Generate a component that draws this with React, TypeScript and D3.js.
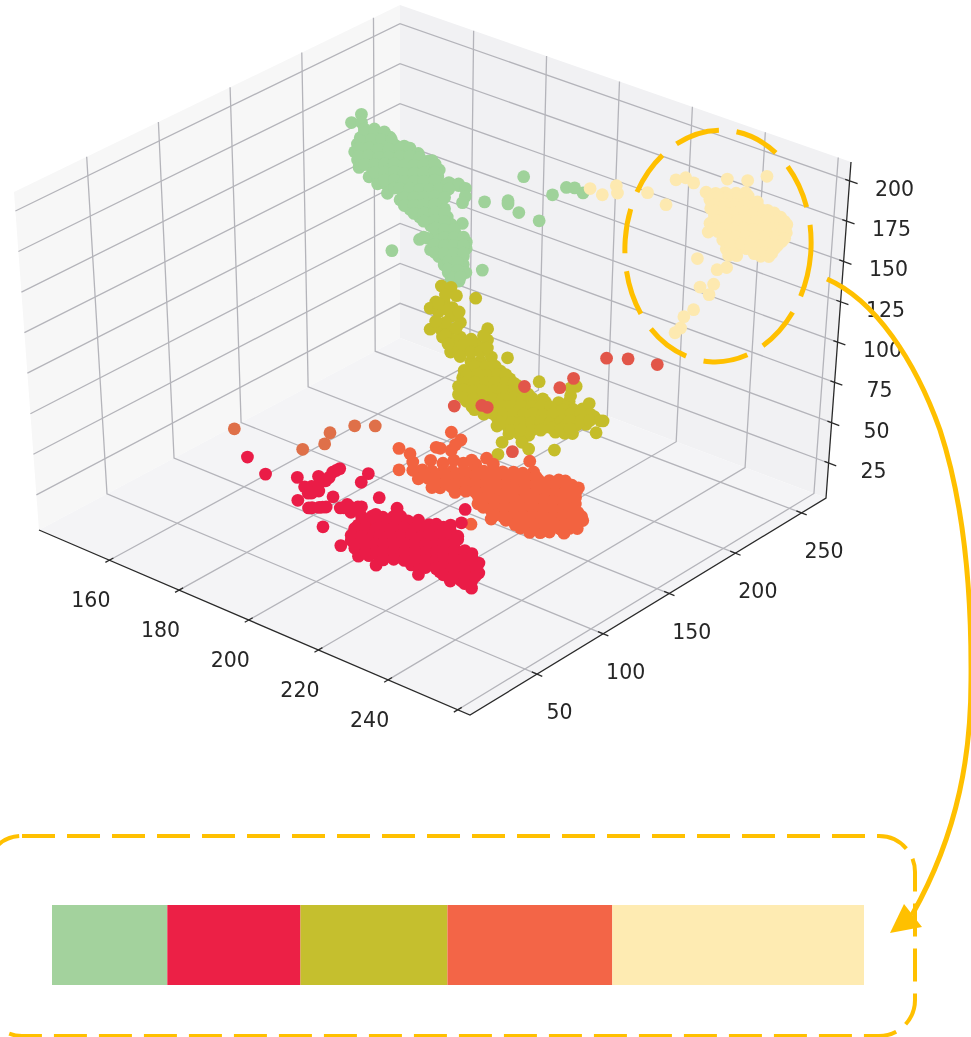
import * as d3 from 'd3';
import { useEffect, useRef } from 'react';

const width = 971;
const height = 1037;

// axis limits and ticks (pixel values: R, G, B)
const xLimits = [139.8, 263.5];
const yLimits = [-0.7, 268.5];
const zLimits = [3.3, 211.7];
const xTicks = [160, 180, 200, 220, 240, 260];
const xTickLabels = [160, 180, 200, 220, 240];
const yTicks = [50, 100, 150, 200, 250];
const zTicks = [25, 50, 75, 100, 125, 150, 175, 200];

// screen position of the cube corners [left, front, back, right]
const floorCorners = [[39, 530], [470, 715], [400, 338], [826, 498]];
const topCorners = [[14, 192], [474, 370], [400, 5], [851, 162]];

// green cluster, R about 165: [G, B]
const greenR = 165;
const greenGB = [
  [177,204],[170,202],[177,199],[179,194],[186,191],[176,190],[184,187],[191,184],[197,181],
  [174,187],[180,184],[187,180],[194,177],[201,174],[207,171],[172,183],[177,180],[184,177],
  [191,174],[199,170],[206,167],[213,164],[217,162],[174,177],[181,174],[188,171],[195,167],
  [202,164],[209,161],[216,158],[224,154],[227,153],[175,172],[184,168],[191,164],[198,161],
  [205,158],[212,155],[219,151],[226,148],[232,145],[182,163],[188,161],[195,157],[202,154],
  [209,151],[216,148],[224,144],[231,141],[188,156],[194,153],[201,150],[208,147],[215,143],
  [222,140],[229,137],[235,134],[241,132],[246,129],[239,134],[246,130],[251,125],[195,147],
  [207,142],[214,139],[221,135],[229,132],[234,130],[251,120],[204,139],[211,135],[218,132],
  [225,129],[232,126],[249,117],[211,130],[218,127],[225,124],[232,121],[236,119],[218,122],
  [225,119],[232,116],[238,113],[249,104],[226,113],[234,110],[241,107],[230,107],[237,103],
  [244,100],[218,108],[224,106],[231,101],[239,97],[246,94],[252,91],[226,98],[233,95],
  [241,92],[248,89],[252,87],[232,91],[237,88],[244,85],[250,83],[236,84],[243,81],[250,78],
  [239,78],[246,75],[252,72],[241,72],[247,69],[198,110],
  [179,192],[186,189],[193,186],[176,188],[184,185],[191,182],[198,179],[175,184],[182,181],
  [189,177],[196,174],[204,171],[211,168],[175,179],[182,176],[189,172],[196,169],[204,166],
  [211,163],[218,159],[179,172],[186,169],[193,166],[200,163],[207,159],[214,156],[221,153],
  [229,150],[186,164],[193,161],[200,158],[207,154],[214,151],[221,148],[229,145],[193,156],
  [200,153],[207,149],[214,146],[221,143],[229,140],[200,148],[204,146],[211,143],[218,139],
  [225,136],[232,133],[239,130],[207,139],[214,136],[221,133],[229,130],[236,126],[207,134],
  [214,131],[221,128],[229,125],[214,126],[221,123],[229,120],[236,116],[221,118],[229,115],
  [236,111],[229,110],[236,106],[243,103],[221,108],[236,101],[243,98],[250,95],[229,100],
  [236,96],[243,93],[250,90],[229,95],[236,91],[243,88],[250,85],[239,85],[246,81],[239,80],
  [246,76],[243,73],[248,71],
];
const greenLoose = [
  [180,254,143],[180,226,140],[180,243,131],[180,243,133],[180,251,122],[180,266,110],
  [190,249,142],[190,259,142],[190,265,139],[192,266,137],[180,225,98],
];

// cream cluster, R about 253: [G, B]
const creamR = 253;
const creamGB = [
  [236,210],[222,214],[207,222],[192,221],[199,217],[206,214],[214,210],[221,207],[195,215],
  [202,211],[209,207],[217,204],[224,200],[230,197],[196,209],[204,205],[211,202],[218,198],
  [225,195],[233,191],[238,188],[199,203],[207,199],[214,196],[221,192],[228,189],[235,185],
  [243,182],[248,179],[196,200],[204,196],[211,192],[218,189],[225,185],[233,182],[240,178],
  [247,175],[253,172],[195,195],[202,192],[209,188],[217,185],[224,181],[231,178],[238,174],
  [245,170],[253,167],[206,185],[214,181],[221,178],[228,174],[235,170],[243,167],[250,163],
  [209,178],[217,175],[224,171],[231,168],[238,164],[245,161],[211,173],[217,170],[235,161],
  [241,158],[210,166],[203,168],[201,160],[191,163],[198,155],[188,182],[187,151],[180,150],
  [178,144],[174,143],
  [201,214],[209,211],[216,207],[223,204],[199,210],[206,207],[214,203],[221,200],[228,196],
  [199,206],[206,202],[214,198],[221,195],[228,191],[235,188],[243,184],[201,199],[209,196],
  [216,192],[223,189],[230,185],[238,182],[245,178],[251,175],[199,195],[206,192],[214,188],
  [221,185],[228,181],[235,178],[243,174],[250,170],[209,186],[216,182],[223,179],[230,175],
  [238,172],[245,168],[252,164],[212,179],[220,176],[227,172],[234,168],[241,165],[247,162],
  [214,173],[230,165],[238,162],[243,159],
];
const creamLoose = [
  [215,210,184],[215,219,176],[215,229,177],[215,230,172],[215,252,162],[215,266,148],
  [240,205,212],[240,212,210],[240,218,204],
];

// olive cluster, R about 197: [G, B]
const oliveR = 197;
const oliveGB = [
  [151,136],[158,132],[162,125],[147,128],[143,126],[153,125],[159,119],[149,121],[158,114],
  [165,107],[143,113],[151,109],[158,106],[152,104],[159,99],[165,98],[158,92],[162,93],
  [169,90],[176,89],[185,94],[185,87],[182,84],[188,75],[200,69],[176,117],[154,112],
  [173,79],[180,76],[168,76],[176,73],[183,69],[190,66],[195,63],[167,72],[174,68],[182,65],
  [189,62],[196,58],[202,55],[164,68],[171,65],[179,61],[186,58],[193,54],[201,51],[208,48],
  [164,63],[171,60],[179,56],[186,53],[193,50],[201,46],[208,43],[216,39],[170,56],[177,52],
  [185,49],[192,45],[199,42],[207,38],[214,35],[221,31],[229,28],[239,23],[247,20],[176,48],
  [183,44],[190,41],[198,38],[205,34],[213,31],[220,27],[227,24],[235,20],[242,17],[193,35],
  [201,31],[208,28],[216,24],[223,21],[230,17],[238,14],[245,10],[193,30],[201,26],[208,23],
  [216,19],[223,16],[230,12],[238,9],[202,21],[210,17],[217,13],[212,11],[197,18],[194,12],
  [248,28],[252,27],[248,23],[224,43],
  [176,75],[184,71],[191,68],[170,72],[178,69],[185,65],[193,62],[199,59],[169,68],[176,65],
  [184,61],[191,58],[199,54],[205,51],[168,64],[175,60],[182,57],[190,53],[197,50],[205,46],
  [212,43],[168,59],[175,55],[182,52],[190,48],[197,45],[205,42],[212,38],[219,35],[227,31],
  [174,51],[182,48],[189,44],[196,41],[204,37],[211,34],[219,30],[226,27],[233,23],[183,42],
  [190,39],[198,35],[205,32],[213,28],[220,25],[227,21],[235,18],[242,14],[196,31],[204,27],
  [211,24],[219,20],[226,17],[233,13],[241,10],[204,22],[211,19],[219,15],[226,12],
  [154,129],[149,126],[156,119],[164,114],[162,105],[154,104],[147,116],[167,92],[173,85],
  [180,82],[165,86],[156,98],[185,82],[182,91],[173,93],
];
const oliveLoose = [
  [205,252,12],[205,247,7],[205,232,19],[205,239,16],[205,239,21],[205,245,18],[205,225,23],
  [205,232,24],[205,236,27],[205,229,30],[205,216,22],[205,223,18],[205,229,15],[205,196,21],
  [205,241,28],[215,189,32],[205,227,28],[205,235,25],[205,242,21],[205,227,24],[205,235,20],
  [205,242,17],[205,250,13],[205,213,26],[205,220,22],[205,227,19],
];

// orange cluster, R about 243: [G, B]
const orangeR = 243;
const orangeGB = [
  [45,130],[41,129],[38,127],[38,138],[0,146],[0,133],[27,134],[30,132],[8,139],[10,133],
  [23,128],[40,120],[53,114],[64,110],[69,104],[96,93],[32,122],[47,115],[56,110],[10,128],
  [17,125],[24,121],[32,117],[39,114],[47,110],[54,107],[62,103],[69,100],[76,96],[84,92],
  [91,88],[99,85],[14,121],[21,118],[29,114],[36,110],[44,107],[51,103],[58,100],[66,96],
  [73,92],[81,89],[88,85],[96,82],[103,78],[111,74],[118,71],[123,68],[24,111],[30,108],
  [38,105],[45,101],[53,97],[60,94],[68,90],[75,87],[82,83],[90,79],[97,76],[105,72],[112,69],
  [120,65],[127,62],[133,59],[58,90],[66,86],[73,82],[81,79],[88,75],[96,72],[103,68],[111,65],
  [118,61],[125,57],[131,54],[58,85],[66,81],[73,78],[81,74],[88,70],[96,67],[103,63],[111,60],
  [118,56],[125,53],[131,50],[68,76],[73,73],[81,69],[88,65],[96,62],[103,58],[111,55],[118,51],
  [125,48],[133,44],[68,71],[79,65],[86,62],[94,58],[101,54],[108,51],[116,47],[123,44],[131,40],
  [137,37],[90,55],[97,51],[105,48],[112,44],[120,40],[127,37],[133,34],[97,49],[105,45],[112,42],
  [123,36],[53,75],
  [19,121],[27,117],[34,114],[41,110],[49,107],[56,103],[64,99],[71,96],[79,92],[86,89],[93,85],
  [101,81],[27,112],[34,109],[41,105],[49,102],[56,98],[64,94],[71,91],[79,87],[86,84],[93,80],
  [101,76],[108,73],[116,69],[123,66],[128,63],[41,100],[49,97],[56,93],[64,89],[71,86],[79,82],
  [86,79],[93,75],[101,71],[108,68],[116,64],[123,61],[131,57],[62,86],[70,82],[77,78],[85,75],
  [92,71],[99,68],[107,64],[114,60],[122,57],[129,53],[62,81],[70,77],[77,73],[85,70],[92,66],
  [99,63],[107,59],[114,55],[122,52],[129,48],[70,72],[77,68],[85,65],[92,61],[99,58],[107,54],
  [114,50],[122,47],[129,43],[136,40],[86,59],[93,56],[101,52],[108,49],[116,45],[123,41],[131,38],
];
const orangeFar = [
  [180,44,82],[200,62,89],[200,58,84],[200,42,88],[200,80,85],[200,95,78],
];
const orangeHigh = [
  [243,151,130],[243,167,122],[243,189,108],[243,127,129],[243,117,128],[243,91,141],
  [243,40,153],[243,60,144],[243,64,141],[243,83,105],
];

// red cluster, G about 30: [R, B]
const redG = 30;
const redRB = [
  [189,79],[194,73],[203,79],[203,65],[210,55],[215,48],[226,87],[223,99],[221,92],[237,50],
  [215,95],[213,91],[211,84],[209,85],[207,77],[206,72],[205,75],[206,63],[209,66],[213,76],
  [211,68],[215,71],[217,75],[220,76],[221,77],[218,71],[225,76],[231,85],[209,76],[221,71],
  [224,74],[227,76],[230,79],[232,81],[220,65],[223,68],[226,70],[228,73],[231,75],[234,78],
  [237,80],[240,83],[242,85],[219,60],[222,62],[225,65],[228,67],[231,70],[233,72],[236,75],
  [239,78],[242,80],[245,83],[246,84],[218,54],[220,56],[223,59],[226,61],[229,64],[232,66],
  [235,69],[237,71],[240,74],[243,76],[246,79],[248,81],[219,50],[222,52],[225,55],[227,57],
  [230,60],[233,62],[236,65],[239,67],[241,70],[244,73],[247,75],[220,46],[223,49],[226,51],
  [229,54],[232,56],[235,59],[237,62],[240,64],[243,67],[246,69],[249,72],[252,74],[225,45],
  [235,54],[237,57],[240,59],[243,62],[246,64],[249,67],[252,69],[254,72],[243,57],[245,59],
  [248,61],[251,64],[254,66],[246,54],[249,57],[252,59],[252,55],[250,101],[249,92],[246,88],[252,76],
  [222,70],[225,73],[228,75],[231,78],[234,80],[237,83],[219,62],[222,65],[225,67],[227,70],
  [230,72],[233,75],[236,77],[239,80],[242,82],[244,85],[218,57],[221,59],[224,61],[226,64],
  [229,67],[232,69],[235,72],[238,74],[240,77],[243,79],[246,82],[248,83],[219,52],[222,55],
  [225,58],[227,60],[230,63],[233,65],[236,68],[239,70],[242,73],[244,75],[247,78],[222,50],
  [225,53],[227,55],[230,58],[233,60],[236,63],[239,65],[242,68],[244,70],[247,73],[250,76],
  [227,50],[230,53],[233,55],[236,58],[239,60],[242,63],[244,66],[247,68],[250,71],[252,73],
  [239,56],[242,58],[244,61],[247,63],[250,66],[253,68],[244,56],[247,58],[250,61],[253,63],
  [250,56],[214,93],[212,87],[209,80],[207,73],[207,64],[210,67],[216,72],[218,74],
];

// palette bar
const barNames = ['green', 'red', 'olive', 'orange', 'cream'];
const barShares = [14.2, 16.4, 18.1, 20.3, 31.0];
const barColors = ['#a3d29d', '#ec2046', '#c5bf2e', '#f36547', '#feebb2'];

const accent = '#ffc000';

const xScale = d3.scaleLinear().domain(xLimits).range([0, 1]);
const yScale = d3.scaleLinear().domain(yLimits).range([0, 1]);
const zScale = d3.scaleLinear().domain(zLimits).range([0, 1]);

// cube coordinates to pixels, blending between the eight corners
const blend = (c: number[][], u: number, v: number, i: number) =>
  c[0][i] * (1 - u) * (1 - v) + c[1][i] * u * (1 - v) + c[2][i] * (1 - u) * v + c[3][i] * u * v;

const project = (x: number, y: number, z: number): [number, number] => {
  const u = xScale(x);
  const v = yScale(y);
  const w = zScale(z);
  return [
    blend(floorCorners, u, v, 0) * (1 - w) + blend(topCorners, u, v, 0) * w,
    blend(floorCorners, u, v, 1) * (1 - w) + blend(topCorners, u, v, 1) * w,
  ];
};

export default function App() {
  const ref = useRef<HTMLDivElement>(null);

  useEffect(() => {
    if (!ref.current) return;
    const [x0, x1] = xLimits;
    const [y0, y1] = yLimits;
    const [z0, z1] = zLimits;

    const svg = d3
      .create('svg')
      .attr('width', width)
      .attr('height', height)
      .style('position', 'absolute')
      .style('left', 0)
      .style('top', 0)
      .style('font-family', '"DejaVu Sans"');

    svg
      .append('defs')
      .append('filter')
      .attr('id', 'soft')
      .append('feGaussianBlur')
      .attr('stdDeviation', 0.55);

    const chart = svg.append('g').attr('filter', 'url(#soft)');
    const line = d3.line();

    // panes
    const panes = [
      { fill: '#f7f7f7', pts: [[x0, y0, z0], [x0, y1, z0], [x0, y1, z1], [x0, y0, z1]] },
      { fill: '#f1f1f3', pts: [[x0, y1, z0], [x1, y1, z0], [x1, y1, z1], [x0, y1, z1]] },
      { fill: '#f4f4f6', pts: [[x0, y0, z0], [x1, y0, z0], [x1, y1, z0], [x0, y1, z0]] },
    ];
    chart
      .append('g')
      .selectAll('path')
      .data(panes)
      .join('path')
      .attr('fill', (d) => d.fill)
      .attr('d', (d) => line(d.pts.map((p) => project(p[0], p[1], p[2]))) + 'Z');

    // grid
    const gridPaths = [
      ...xTicks.map((t) => [[t, y0, z0], [t, y1, z0], [t, y1, z1]]),
      ...yTicks.map((t) => [[x1, t, z0], [x0, t, z0], [x0, t, z1]]),
      ...zTicks.map((t) => [[x0, y0, t], [x0, y1, t], [x1, y1, t]]),
    ];
    chart
      .append('g')
      .selectAll('path')
      .data(gridPaths)
      .join('path')
      .attr('fill', 'none')
      .attr('stroke', '#b4b4ba')
      .attr('stroke-width', 1.3)
      .attr('d', (d) => line(d.map((p) => project(p[0], p[1], p[2]))));

    // axis lines and ticks
    const axisPaths = [
      [[x0, y0, z0], [x1, y0, z0], [x1, y1, z0], [x1, y1, z1]],
      ...xTicks.map((t) => [[t, y0 - 3, z0], [t, y0 + 3, z0]]),
      ...yTicks.map((t) => [[x1 - 1.5, t, z0], [x1 + 1.5, t, z0]]),
      ...zTicks.map((t) => [[x1 - 1.2, y1, t], [x1 + 2.2, y1, t]]),
    ];
    chart
      .append('g')
      .selectAll('path')
      .data(axisPaths)
      .join('path')
      .attr('fill', 'none')
      .attr('stroke', '#2a2a2a')
      .attr('stroke-width', 1.3)
      .attr('d', (d) => line(d.map((p) => project(p[0], p[1], p[2]))));

    // tick labels
    const labels = [
      ...xTickLabels.map((t) => ({ t, p: project(t, y0, z0), dx: -18.5, dy: 41 })),
      ...yTicks.map((t) => ({ t, p: project(x1, t, z0), dx: 22.5, dy: 39 })),
      ...zTicks.map((t) => ({ t, p: project(x1, y1, t), dx: 45, dy: 9 })),
    ];
    chart
      .append('g')
      .selectAll('text')
      .data(labels)
      .join('text')
      .attr('x', (d) => d.p[0] + d.dx)
      .attr('y', (d) => d.p[1] + d.dy)
      .attr('text-anchor', 'middle')
      .attr('dominant-baseline', 'middle')
      .attr('font-size', 20.5)
      .attr('fill', '#262626')
      .text((d) => d.t);

    // scatter, back clusters first
    const groups = [
      { color: '#9fd29a', pts: [...greenGB.map((d) => [greenR, d[0], d[1]]), ...greenLoose] },
      { color: '#fde9b0', pts: [...creamGB.map((d) => [creamR, d[0], d[1]]), ...creamLoose] },
      { color: '#c5bd2c', pts: [...oliveGB.map((d) => [oliveR, d[0], d[1]]), ...oliveLoose] },
      { color: '#f26440', pts: orangeGB.map((d) => [orangeR, d[0], d[1]]) },
      { color: '#df7048', pts: orangeFar },
      { color: '#e2574a', pts: orangeHigh },
      { color: '#ea1e47', pts: redRB.map((d) => [d[0], redG, d[1]]) },
    ];
    const scatter = chart.append('g');
    groups.forEach((g) => {
      scatter
        .append('g')
        .attr('fill', g.color)
        .selectAll('circle')
        .data(g.pts)
        .join('circle')
        .attr('cx', (d) => project(d[0], d[1], d[2])[0])
        .attr('cy', (d) => project(d[0], d[1], d[2])[1])
        .attr('r', 6.4);
    });

    // palette bar
    const barX = d3.scaleLinear().domain([0, d3.sum(barShares)]).range([52, 864]);
    const starts = d3.cumsum(barShares);
    svg
      .append('g')
      .selectAll('rect')
      .data(barNames)
      .join('rect')
      .attr('x', (_, i) => barX(i === 0 ? 0 : starts[i - 1]))
      .attr('y', 905)
      .attr('width', (_, i) => barX(starts[i]) - barX(i === 0 ? 0 : starts[i - 1]))
      .attr('height', 80)
      .attr('fill', (_, i) => barColors[i]);

    // annotations
    const notes = svg.append('g').attr('fill', 'none').attr('stroke', accent);
    notes
      .append('ellipse')
      .attr('cx', 718)
      .attr('cy', 246)
      .attr('rx', 93)
      .attr('ry', 116)
      .attr('transform', 'rotate(4 718 246)')
      .attr('stroke-width', 5)
      .attr('stroke-dasharray', '45 18');
    notes
      .append('rect')
      .attr('x', -14)
      .attr('y', 836)
      .attr('width', 929)
      .attr('height', 200)
      .attr('rx', 36)
      .attr('stroke-width', 4)
      .attr('stroke-dasharray', '33 12');
    notes
      .append('path')
      .attr('stroke-width', 5)
      .attr('d', 'M827,279C875,300 915,360 940,430C958,485 972,560 971,680C971,750 960,830 912,915');
    svg
      .append('path')
      .attr('fill', accent)
      .attr('d', 'M904,904L922,927L890,933Z');

    ref.current.innerHTML = '';
    ref.current.appendChild(svg.node()!);
  }, []);

  return <div ref={ref} />;
}
